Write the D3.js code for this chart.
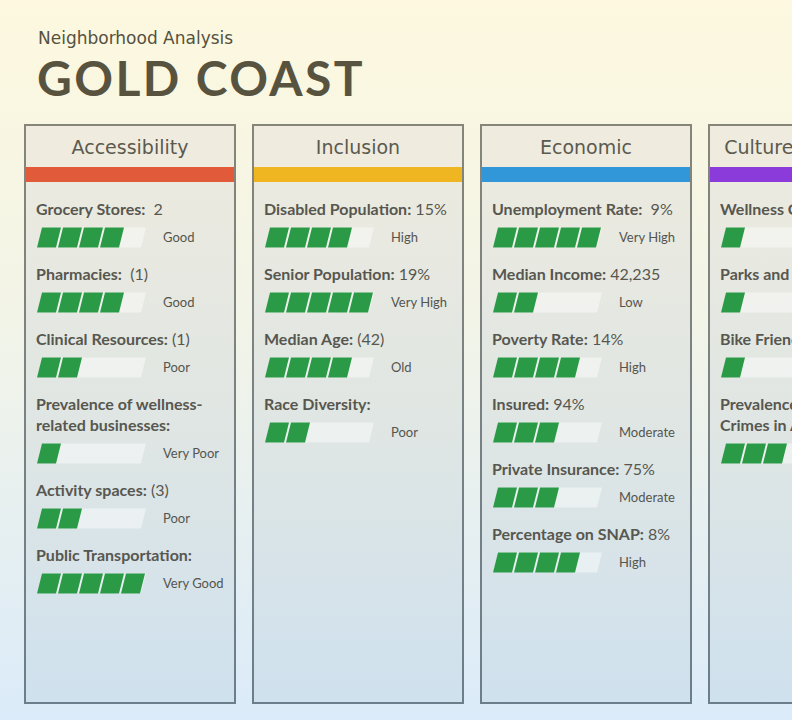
<!DOCTYPE html>
<html>
<head>
<meta charset="utf-8">
<script src="https://cdn.jsdelivr.net/npm/d3@7/dist/d3.min.js"></script>
<style>
  body { margin: 0; overflow: hidden; }
  svg { display: block; }
  text { white-space: pre; }
</style>
</head>
<body>
<svg id="chart" width="792" height="720"></svg>
<script>
// chart data
const categories = ["Accessibility", "Inclusion", "Economic", "Culture & Wellness"];

const accessLabels = ["Grocery Stores:", "Pharmacies:", "Clinical Resources:", "Prevalence of wellness-\nrelated businesses:", "Activity spaces:", "Public Transportation:"];
const accessValues = ["  2", "  (1)", " (1)", "", " (3)", ""];
const accessScores = [4, 4, 2, 1, 2, 5];
const accessRatings = ["Good", "Good", "Poor", "Very Poor", "Poor", "Very Good"];

const inclusionLabels = ["Disabled Population:", "Senior Population:", "Median Age:", "Race Diversity:"];
const inclusionValues = [" 15%", " 19%", " (42)", ""];
const inclusionScores = [4, 5, 4, 2];
const inclusionRatings = ["High", "Very High", "Old", "Poor"];

const economicLabels = ["Unemployment Rate:", "Median Income:", "Poverty Rate:", "Insured:", "Private Insurance:", "Percentage on SNAP:"];
const economicValues = ["  9%", " 42,235", " 14%", " 94%", " 75%", " 8%"];
const economicScores = [5, 2, 4, 3, 3, 4];
const economicRatings = ["Very High", "Low", "High", "Moderate", "Moderate", "High"];

const cultureLabels = ["Wellness Centers:", "Parks and Recreation:", "Bike Friendliness:", "Prevalence of Violent\nCrimes in Area:"];
const cultureValues = ["", "", "", ""];
const cultureScores = [1, 1, 1, 3];
const cultureRatings = ["Very Poor", "Very Poor", "Very Poor", "Moderate"];

const maxScore = 5;

// styles
const stripeColors = ["#e15a3a", "#efb621", "#3197d9", "#8b3bd9"];
const textColor = "#575750";
const green = "#2b9a47";

const panels = [
    { labels: accessLabels, values: accessValues, scores: accessScores, ratings: accessRatings },
    { labels: inclusionLabels, values: inclusionValues, scores: inclusionScores, ratings: inclusionRatings },
    { labels: economicLabels, values: economicValues, scores: economicScores, ratings: economicRatings },
    { labels: cultureLabels, values: cultureValues, scores: cultureScores, ratings: cultureRatings }
].map((p, i) => Object.assign(p, { name: categories[i], color: stripeColors[i] }));

const svg = d3.select("#chart");
const defs = svg.append("defs");

function vGradient(id, stops) {
    const g = defs.append("linearGradient").attr("id", id)
        .attr("x1", 0).attr("y1", 0).attr("x2", 0).attr("y2", 1);
    stops.forEach(s => g.append("stop").attr("offset", s[0]).attr("stop-color", s[1]));
}
vGradient("bg", [[0, "#fdf8df"], [0.45, "#f2f4e8"], [1, "#dbebf9"]]);
vGradient("panelBg", [[0, "#eeebdf"], [0.5, "#e0e6e3"], [1, "#cfe1ee"]]);
vGradient("panelStroke", [[0, "#85857a"], [1, "#6c7e8c"]]);

svg.append("rect").attr("width", 792).attr("height", 720).attr("fill", "url(#bg)");

// title
svg.append("text")
    .attr("x", 38).attr("y", 44)
    .attr("font-family", "'DejaVu Sans', sans-serif")
    .attr("font-size", 17)
    .attr("fill", "#55513f")
    .text("Neighborhood Analysis");

svg.append("text")
    .attr("x", 37).attr("y", 96)
    .attr("font-family", "Lato, sans-serif")
    .attr("font-weight", 700)
    .attr("font-size", 48)
    .attr("letter-spacing", 2.4)
    .attr("fill", "#58533f")
    .text("GOLD COAST");

// layout scales
const panelTop = 125, panelBottom = 703;
const colX = d3.scaleBand().domain(categories).range([25, 919]).paddingInner(18 / 228);
const pw = colX.bandwidth();
const segX = d3.scaleLinear().domain([0, maxScore]).range([0, 105]);
const rowY = d3.scaleLinear().domain([0, 1]).range([209, 274]);
const lineH = 21, barOffset = 28.5, barH = 20, skew = 5, trackW = 109;

const panel = svg.selectAll("g.panel")
    .data(panels)
    .join("g")
    .attr("class", "panel")
    .attr("transform", d => `translate(${colX(d.name)},0)`);

panel.append("rect")
    .attr("x", 0).attr("y", panelTop)
    .attr("width", pw).attr("height", panelBottom - panelTop)
    .attr("fill", "url(#panelBg)");

panel.append("rect")
    .attr("x", 0).attr("y", panelTop)
    .attr("width", pw).attr("height", 42)
    .attr("fill", "#efebdf");

panel.append("rect")
    .attr("x", 0).attr("y", 167)
    .attr("width", pw).attr("height", 15)
    .attr("fill", d => d.color);

panel.append("rect")
    .attr("x", 0).attr("y", panelTop)
    .attr("width", pw).attr("height", panelBottom - panelTop)
    .attr("fill", "none")
    .attr("stroke", "url(#panelStroke)")
    .attr("stroke-width", 2);

panel.append("text")
    .attr("x", pw / 2).attr("y", 154)
    .attr("text-anchor", "middle")
    .attr("font-family", "'DejaVu Sans', sans-serif")
    .attr("font-size", 19)
    .attr("fill", "#5b5a4e")
    .text(d => d.name);

// rows
panel.each(function (p) {
    const g = d3.select(this);
    let extra = 0;
    p.labels.forEach((lab, i) => {
        const lines = lab.split("\n");
        const y0 = rowY(i) + extra * lineH;
        const t = g.append("text")
            .attr("font-family", "Lato, sans-serif")
            .attr("font-size", 16)
            .attr("fill", textColor);
        lines.forEach((ln, j) => {
            t.append("tspan")
                .attr("x", 11)
                .attr("y", y0 + j * lineH + 5.5)
                .attr("font-weight", 700)
                .text(ln);
            if (j === lines.length - 1 && p.values[i]) {
                t.append("tspan").attr("font-weight", 400).text(p.values[i]);
            }
        });
        const barC = y0 + (lines.length - 1) * lineH + barOffset;
        const by = barC - barH / 2;

        // track
        g.append("path")
            .attr("d", `M12,${by + barH} L${12 + skew},${by} L${12 + trackW},${by} L${12 + trackW - skew},${by + barH} Z`)
            .attr("fill", "#ffffff")
            .attr("opacity", 0.45);

        // segments
        g.selectAll(null)
            .data(d3.range(p.scores[i]))
            .join("path")
            .attr("d", k => {
                const x0 = 12 + segX(k), x1 = 12 + segX(k + 1) - 2;
                return `M${x0},${by + barH} L${x0 + skew},${by} L${x1 + skew},${by} L${x1},${by + barH} Z`;
            })
            .attr("fill", green);

        g.append("text")
            .attr("x", 138).attr("y", barC + 4.5)
            .attr("font-family", "Lato, sans-serif")
            .attr("font-size", 13)
            .attr("fill", "#55554f")
            .text(p.ratings[i]);

        extra += lines.length - 1;
    });
});
</script>
</body>
</html>
